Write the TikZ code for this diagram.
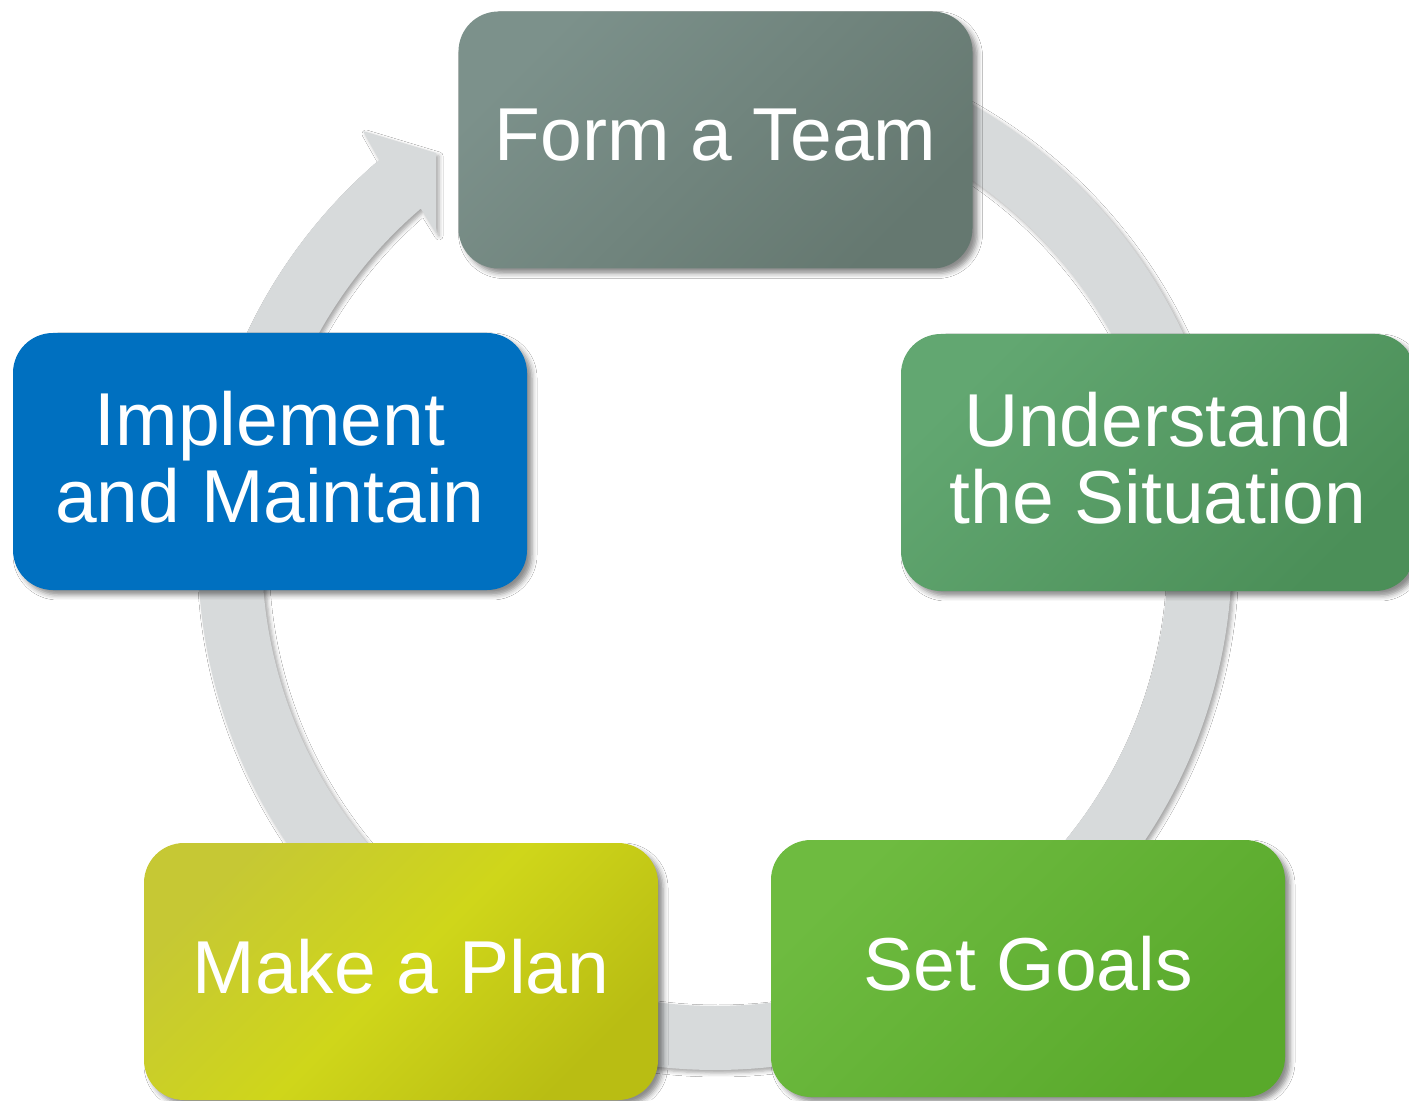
\documentclass[tikz,border=0pt]{standalone}
\usepackage{fontspec}
\setmainfont{Liberation Sans}
\usetikzlibrary{shadows.blur}
\definecolor{ringgray}{HTML}{D7DADB}
\definecolor{teamA}{HTML}{7C918B}
\definecolor{teamB}{HTML}{657870}
\definecolor{undA}{HTML}{62A771}
\definecolor{undB}{HTML}{4B8F58}
\definecolor{goalA}{HTML}{6EBB40}
\definecolor{goalB}{HTML}{59A92B}
\definecolor{planA}{HTML}{C6C834}
\definecolor{planM}{HTML}{CFD61A}
\definecolor{planB}{HTML}{B9BD13}
\definecolor{implblue}{HTML}{0070C0}
\begin{document}
\begin{tikzpicture}[x=0.5pt,y=0.5pt,
  box/.style={rectangle, rounded corners=20pt, minimum width=257pt,
    minimum height=128.5pt, text=white, align=center, inner sep=0pt,
    text depth=5pt,
    font=\fontsize{37.5}{38.5}\selectfont,
    blur shadow={shadow xshift=2.5pt, shadow yshift=-2.5pt,
      shadow blur radius=2.5pt, shadow opacity=45}},
  ringstyle/.style={fill=ringgray,
    blur shadow={shadow xshift=1.5pt, shadow yshift=-1.5pt,
      shadow blur radius=2pt, shadow opacity=35}}]
\fill[white] (0,0) rectangle (1409,1100);
\useasboundingbox (0,0) rectangle (1409,1100);
\begin{scope}[shift={(715,547)}]
\path[ringstyle] (130.5:517) arc[start angle=130.5, end angle=450, radius=517]
  -- (450:453) arc[start angle=450, end angle=130.5, radius=453]
  -- (-279,320) -- (-279,400) -- (-352,422) -- cycle;
\end{scope}
\node[box, top color=teamA, bottom color=teamB, shading angle=45] (team) at (715.5,960) {Form a Team};
\node[box, top color=undA, bottom color=undB, shading angle=45] (understand) at (1158,637.5) {Understand\\the Situation};
\node[box, top color=goalA, bottom color=goalB, shading angle=45] (goals) at (1028,131.5) {Set Goals};
\node[box, top color=planA, bottom color=planB, middle color=planM, shading angle=45] (plan) at (401,128.5) {Make a Plan};
\node[box, fill=implblue] (implement) at (270,638.5) {Implement\\and Maintain};
\end{tikzpicture}
\end{document}
